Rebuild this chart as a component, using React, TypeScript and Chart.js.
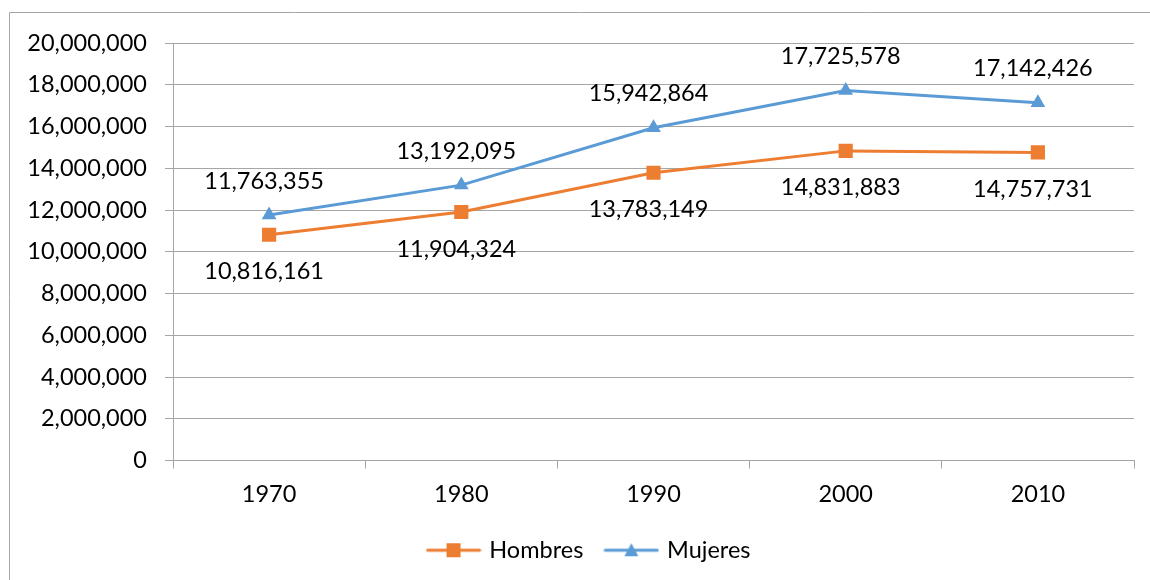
import React, { useEffect, useRef } from "react";
import { Chart, registerables } from "chart.js";

Chart.register(...registerables);

const categories = ["1970", "1980", "1990", "2000", "2010"];
const hombres = [10816161, 11904324, 13783149, 14831883, 14757731];
const mujeres = [11763355, 13192095, 15942864, 17725578, 17142426];
const seriesNames = ["Hombres", "Mujeres"];
const colors = ["#ED7D31", "#5B9BD5"];

const FONT = "Lato, 'Open Sans', sans-serif";
const FS = 23.5;

function makeLegendIcon(color: string, kind: "rect" | "triangle") {
  const c = document.createElement("canvas");
  c.width = 56;
  c.height = 18;
  const ctx = c.getContext("2d")!;
  ctx.strokeStyle = color;
  ctx.lineWidth = 3;
  ctx.lineCap = "round";
  ctx.beginPath();
  ctx.moveTo(2, 9);
  ctx.lineTo(54, 9);
  ctx.stroke();
  ctx.fillStyle = color;
  if (kind === "rect") {
    ctx.fillRect(21, 2, 14, 14);
  } else {
    ctx.beginPath();
    ctx.moveTo(28, 2);
    ctx.lineTo(35, 15);
    ctx.lineTo(21, 15);
    ctx.closePath();
    ctx.fill();
  }
  return c;
}

const fmt = (v: number) => v.toLocaleString("en-US");

export default function App() {
  const ref = useRef<HTMLCanvasElement>(null);
  useEffect(() => {
    const icons = [makeLegendIcon(colors[0], "rect"), makeLegendIcon(colors[1], "triangle")];
    const frame = {
      id: "frame",
      beforeDraw(chart: any) {
        const ctx = chart.ctx;
        ctx.save();
        ctx.strokeStyle = "#A6A6A6";
        ctx.lineWidth = 1;
        ctx.beginPath();
        ctx.moveTo(9.5, 600);
        ctx.lineTo(9.5, 12.5);
        ctx.lineTo(1150, 12.5);
        ctx.stroke();
        ctx.restore();
      },
      afterLayout(chart: any) {
        const lg = chart.legend;
        if (lg) {
          lg.left += 23;
          lg.right += 23;
        }
      },
    };
    const labels = {
      id: "valueLabels",
      afterDatasetsDraw(chart: any) {
        const ctx = chart.ctx;
        ctx.save();
        ctx.font = `${FS}px ${FONT}`;
        ctx.fillStyle = "#000";
        ctx.textAlign = "center";
        ctx.textBaseline = "middle";
        chart.data.datasets.forEach((ds: any, di: number) => {
          const meta = chart.getDatasetMeta(di);
          meta.data.forEach((pt: any, i: number) => {
            const off = di === 1 ? -34 : 37;
            ctx.fillText(fmt(ds.data[i]), pt.x - 5, pt.y + off);
          });
        });
        ctx.restore();
      },
    };
    const chart = new Chart(ref.current!, {
      type: "line",
      data: {
        labels: categories,
        datasets: [
          {
            label: seriesNames[0],
            data: hombres,
            borderColor: colors[0],
            backgroundColor: colors[0],
            borderWidth: 3,
            pointStyle: "rect",
            pointRadius: 10,
            pointBorderWidth: 0,
          },
          {
            label: seriesNames[1],
            data: mujeres,
            borderColor: colors[1],
            backgroundColor: colors[1],
            borderWidth: 3,
            pointStyle: "triangle",
            pointRadius: 8.5,
            pointBorderWidth: 0,
          },
        ],
      },
      options: {
        animation: false,
        responsive: false,
        layout: { padding: { left: 0, right: 16, top: 43, bottom: 8 } },
        plugins: {
          tooltip: { enabled: false },
          legend: {
            position: "bottom",
            labels: {
              usePointStyle: true,
              pointStyleWidth: 48,
              padding: 24,
              color: "#000",
              font: { family: FONT, size: FS },
              generateLabels: (c: any) =>
                Chart.defaults.plugins.legend.labels
                  .generateLabels(c)
                  .map((l: any, i: number) => ({ ...l, pointStyle: icons[i] })),
            },
          },
        },
        scales: {
          x: {
            offset: true,
            grid: {
              offset: true,
              drawOnChartArea: false,
              drawTicks: true,
              tickLength: 8,
              color: "#A6A6A6",
            },
            border: { color: "#A6A6A6" },
            ticks: { color: "#000", font: { family: FONT, size: FS }, padding: 12 },
            afterFit: (s: any) => {
              s.height = 54;
            },
          },
          y: {
            min: 0,
            max: 20000000,
            ticks: {
              stepSize: 2000000,
              color: "#000",
              font: { family: FONT, size: FS },
              padding: 18,
              callback: (v: any) => fmt(Number(v)),
            },
            grid: { color: "#A6A6A6", tickLength: 8 },
            border: { color: "#A6A6A6" },
            afterFit: (s: any) => {
              s.width = 173;
            },
          },
        },
      },
      plugins: [frame, labels],
    });
    return () => chart.destroy();
  }, []);
  return (
    <div style={{ position: "absolute", left: 0, top: 0, width: 1150, height: 580, background: "#fff" }}>
      <canvas ref={ref} width={1150} height={580} />
    </div>
  );
}
